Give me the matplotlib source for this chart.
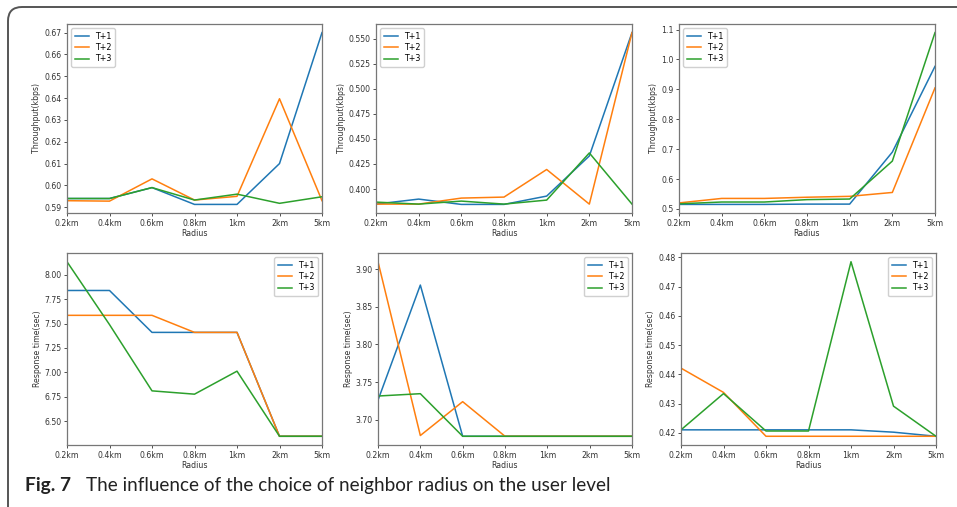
import numpy as np
import matplotlib
matplotlib.use("Agg")
import matplotlib.pyplot as plt
from matplotlib.patches import FancyBboxPatch

radius = ['0.2km', '0.4km', '0.6km', '0.8km', '1km', '2km', '5km']
series = ['T+1', 'T+2', 'T+3']

# throughput (kbps), three panels
thr_a = [[0.594, 0.594, 0.599, 0.5913, 0.5913, 0.610, 0.670],
         [0.593, 0.5928, 0.603, 0.5933, 0.595, 0.6397, 0.593],
         [0.594, 0.594, 0.599, 0.5933, 0.596, 0.5918, 0.5948]]
thr_b = [[0.385, 0.390, 0.3847, 0.3847, 0.393, 0.433, 0.556],
         [0.385, 0.385, 0.391, 0.392, 0.4195, 0.385, 0.556],
         [0.387, 0.3850, 0.388, 0.385, 0.389, 0.436, 0.385]]
thr_c = [[0.515, 0.515, 0.515, 0.516, 0.516, 0.690, 0.977],
         [0.520, 0.535, 0.535, 0.539, 0.542, 0.555, 0.905],
         [0.517, 0.523, 0.523, 0.531, 0.533, 0.660, 1.090]]

# response time (sec), three panels
rt_a = [[7.84, 7.84, 7.41, 7.41, 7.41, 6.344, 6.344],
        [7.585, 7.585, 7.585, 7.41, 7.41, 6.344, 6.344],
        [8.135, 7.49, 6.81, 6.776, 7.012, 6.344, 6.344]]
rt_b = [[3.726, 3.879, 3.678, 3.678, 3.678, 3.678, 3.678],
        [3.910, 3.679, 3.724, 3.678, 3.678, 3.678, 3.678],
        [3.7315, 3.7346, 3.678, 3.678, 3.678, 3.678, 3.678]]
rt_c = [[0.421, 0.421, 0.421, 0.421, 0.421, 0.4202, 0.4188],
        [0.4421, 0.4338, 0.4188, 0.4188, 0.4188, 0.4188, 0.4188],
        [0.421, 0.4334, 0.4206, 0.4206, 0.4785, 0.4291, 0.4188]]

colors = ['#1f77b4', '#ff7f0e', '#2ca02c']

W, H = 957, 507
fig = plt.figure(figsize=(W / 100, H / 100), dpi=100)

def px(l, t, r, b):
    return [l / W, 1 - b / H, (r - l) / W, (b - t) / H]

panels = [
    (thr_a, 'Throughput(kbps)', px(67, 24, 322, 213), 'upper left', None),
    (thr_b, 'Throughput(kbps)', px(376, 24, 632, 213), 'upper left', None),
    (thr_c, 'Throughput(kbps)', px(679, 24, 935, 213), 'upper left', None),
    (rt_a, 'Response time(sec)', px(67, 253, 322, 445), 'upper right', '%.2f'),
    (rt_b, 'Response time(sec)', px(378, 253, 632, 445), 'upper right', '%.2f'),
    (rt_c, 'Response time(sec)', px(681, 253, 936, 445), 'upper right', None),
]

x = np.arange(len(radius))
for data, ylab, rect, loc, fmt in panels:
    ax = fig.add_axes(rect)
    for vals, name, c in zip(data, series, colors):
        ax.plot(x, vals, color=c, lw=1.1, label=name)
    ax.set_xlim(0, len(radius) - 1)
    ax.set_xticks(x)
    ax.set_xticklabels(radius)
    if fmt:
        ax.yaxis.set_major_formatter(matplotlib.ticker.FormatStrFormatter(fmt))
    ax.tick_params(labelsize=5.6, length=2.5, width=0.6, pad=1.5, colors='#333333')
    ax.set_xlabel('Radius', fontsize=5.6, color='#333333', labelpad=1)
    ax.set_ylabel(ylab, fontsize=5.6, color='#333333', labelpad=2)
    for s in ax.spines.values():
        s.set_color('#777777')
        s.set_linewidth(0.9)
    ax.legend(loc=loc, fontsize=5.8, handlelength=1.8, borderpad=0.45,
              labelspacing=0.3, handletextpad=0.7, framealpha=1,
              edgecolor='#d0d0d0')

# journal frame (inches)
frame = FancyBboxPatch((0.08, -0.2), 10.0, H / 100 - 0.07 + 0.2,
                       boxstyle='round,pad=0,rounding_size=0.14',
                       transform=fig.dpi_scale_trans, fill=False,
                       edgecolor='#555555', lw=1.4, clip_on=False)
fig.patches.append(frame)

fig.text(25 / W, 1 - 491 / H, 'Fig. 7', fontsize=13.8, fontweight='bold',
         family='Lato', va='baseline', color='#222222')
fig.text(86 / W, 1 - 491 / H, 'The influence of the choice of neighbor radius on the user level',
         fontsize=13.6, family='Lato', va='baseline', color='#222222')

fig.savefig('out.png', dpi=100)
